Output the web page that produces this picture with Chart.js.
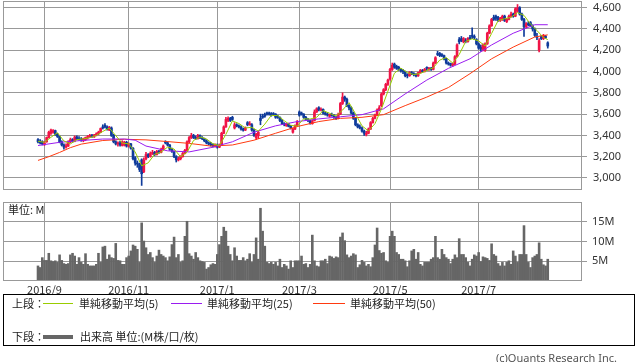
<!DOCTYPE html>
<html>
<head>
<meta charset="utf-8">
<script src="https://cdn.jsdelivr.net/npm/chart.js@4.4.1/dist/chart.umd.min.js"></script>
<style>
body{margin:0;background:#fff;width:638px;height:362px;position:relative;overflow:hidden;font-family:"Noto Sans CJK JP","Noto Sans",sans-serif;color:#222}
canvas{position:absolute;left:0}
#price{top:0}
#vol{top:196px}
.unit{position:absolute;left:8px;top:203px;font-size:11px;line-height:13px;white-space:nowrap}
.legend{position:absolute;left:3px;top:294px;width:632px;height:52px;border:1px solid #000;box-sizing:border-box}
.legend span{position:absolute;font-size:11px;line-height:13px;white-space:nowrap}
.legend i{position:absolute;display:block}
.copy{position:absolute;right:21px;top:351px;font-size:11px;line-height:13px;color:#555;font-family:"Noto Sans",sans-serif}
</style>
</head>
<body>
<canvas id="price" width="638" height="200"></canvas>
<canvas id="vol" width="638" height="98"></canvas>
<div class="unit">単位: M</div>
<div class="legend">
  <span style="left:8px;top:2px">上段：</span>
  <i style="left:39px;top:8px;width:30px;height:1px;background:#99cc00"></i>
  <span style="left:75px;top:2px">単純移動平均(5)</span>
  <i style="left:167px;top:8px;width:31px;height:1px;background:#9a1cf0"></i>
  <span style="left:203px;top:2px">単純移動平均(25)</span>
  <i style="left:309px;top:8px;width:32px;height:1px;background:#ff3a10"></i>
  <span style="left:346px;top:2px">単純移動平均(50)</span>
  <span style="left:8px;top:35px">下段：</span>
  <i style="left:39px;top:40px;width:30px;height:4px;background:#666"></i>
  <span style="left:76px;top:35px">出来高 単位:(M株/口/枚)</span>
</div>
<div class="copy">(c)Quants Research Inc.</div>
<script>
// daily candles, 2016/8/29 .. 2017/8/17 (trading day index = array position)
var opens=[
3360,3345,3340,3320,3340,3380,3420,3430,3445,3410,
3390,3340,3310,3290,3300,3340,3360,3345,3385,3370,
3365,3350,3360,3380,3390,3400,3385,3405,3415,3430,
3480,3495,3480,3450,3470,3400,3340,3320,3330,3305,
3310,3335,3300,3320,3280,3190,3140,3130,3170,3060,
3180,3220,3200,3230,3240,3220,3250,3240,3270,3340,
3330,3310,3270,3250,3200,3170,3180,3200,3230,3260,
3340,3380,3400,3380,3370,3400,3380,3370,3350,3330,
3320,3310,3300,3310,3290,3310,3420,3480,3540,3560,
3570,3470,3500,3490,3480,3460,3450,3520,3500,3500,
3450,3380,3400,3560,3580,3595,3610,3610,3605,3605,
3600,3580,3570,3540,3510,3490,3510,3485,3430,3460,
3490,3620,3610,3600,3570,3550,3540,3510,3540,3620,
3660,3640,3645,3610,3600,3580,3595,3590,3570,3560,
3600,3700,3760,3740,3680,3660,3610,3560,3500,3480,
3470,3440,3410,3420,3460,3520,3560,3590,3640,3680,
3790,3830,3880,3930,4020,4070,4050,4040,4020,4010,
4000,3970,3960,3990,3980,3970,3960,3990,4010,4000,
4040,4020,4030,4020,4080,4170,4170,4160,4150,4120,
4080,4075,4060,4070,4140,4300,4310,4280,4290,4280,
4320,4340,4330,4300,4260,4230,4210,4200,4260,4360,
4430,4510,4520,4510,4480,4490,4520,4470,4490,4520,
4540,4520,4570,4600,4540,4490,4420,4450,4460,4430,
4400,4330,4200,4330,4310,4330,4270];
var highs=[
3370,3360,3350,3345,3385,3440,3460,3455,3450,3420,
3395,3350,3320,3320,3350,3375,3370,3395,3395,3390,
3380,3375,3385,3400,3410,3410,3410,3425,3440,3470,
3500,3510,3490,3485,3480,3410,3350,3340,3345,3350,
3345,3345,3330,3325,3285,3200,3160,3140,3180,3190,
3240,3230,3245,3260,3250,3260,3260,3280,3310,3350,
3340,3315,3280,3255,3210,3195,3210,3240,3270,3350,
3390,3420,3410,3395,3410,3405,3390,3375,3360,3340,
3335,3320,3320,3320,3320,3430,3490,3570,3575,3570,
3580,3520,3510,3500,3490,3470,3480,3530,3530,3510,
3460,3420,3440,3600,3600,3610,3620,3620,3615,3615,
3605,3590,3575,3550,3520,3515,3515,3495,3470,3500,
3540,3630,3620,3605,3580,3560,3545,3545,3640,3660,
3670,3660,3650,3620,3615,3600,3610,3595,3580,3610,
3710,3800,3770,3750,3690,3670,3620,3570,3510,3500,
3480,3450,3440,3470,3530,3570,3600,3650,3680,3800,
3840,3890,3930,4030,4080,4080,4060,4050,4030,4020,
4005,3980,4000,4000,3990,3980,3995,4020,4020,4030,
4045,4040,4040,4090,4140,4190,4180,4170,4155,4125,
4090,4080,4080,4150,4260,4320,4330,4320,4310,4320,
4340,4410,4345,4310,4270,4250,4260,4270,4370,4440,
4500,4530,4530,4520,4510,4530,4530,4500,4530,4560,
4550,4600,4630,4610,4550,4500,4460,4470,4470,4440,
4410,4360,4310,4340,4350,4340,4280];
var lows=[
3330,3320,3310,3305,3335,3375,3410,3420,3400,3380,
3330,3300,3270,3280,3295,3330,3335,3340,3360,3355,
3345,3340,3350,3365,3380,3380,3380,3395,3405,3425,
3460,3470,3450,3445,3390,3330,3310,3300,3300,3300,
3300,3290,3290,3270,3170,3120,3100,3060,2930,3050,
3170,3190,3195,3220,3210,3215,3230,3235,3265,3320,
3300,3260,3240,3190,3150,3160,3170,3195,3225,3255,
3330,3370,3370,3360,3365,3370,3360,3340,3320,3310,
3300,3290,3290,3280,3285,3305,3415,3475,3530,3530,
3540,3460,3480,3470,3450,3440,3445,3490,3495,3440,
3390,3360,3370,3500,3560,3570,3590,3590,3580,3590,
3560,3560,3530,3500,3490,3485,3480,3460,3420,3455,
3485,3580,3590,3560,3540,3530,3505,3505,3535,3615,
3630,3630,3600,3590,3580,3570,3580,3560,3550,3555,
3595,3690,3720,3670,3640,3600,3550,3490,3470,3460,
3430,3400,3395,3415,3455,3515,3555,3585,3630,3670,
3780,3820,3870,3920,4010,4030,4020,4010,3995,3980,
3950,3940,3955,3970,3960,3950,3955,3985,3990,3995,
4010,4010,4010,4015,4075,4150,4140,4140,4110,4070,
4060,4050,4050,4065,4135,4260,4280,4270,4270,4275,
4300,4310,4300,4250,4210,4190,4195,4190,4255,4355,
4425,4480,4480,4470,4470,4480,4470,4460,4485,4510,
4510,4515,4560,4530,4480,4330,4410,4430,4420,4380,
4330,4300,4185,4300,4300,4310,4220];
var closes=[
3340,3330,3320,3330,3380,3430,3450,3445,3410,3390,
3340,3310,3290,3300,3340,3360,3345,3385,3370,3365,
3350,3370,3380,3390,3400,3390,3405,3415,3430,3465,
3470,3480,3455,3475,3400,3340,3320,3330,3310,3340,
3335,3300,3320,3280,3180,3140,3130,3080,3040,3170,
3220,3200,3230,3240,3220,3250,3240,3270,3300,3330,
3310,3270,3250,3200,3170,3180,3200,3230,3260,3340,
3380,3400,3380,3370,3400,3380,3370,3350,3330,3320,
3310,3300,3310,3290,3310,3420,3480,3550,3560,3540,
3550,3500,3490,3480,3460,3450,3470,3500,3510,3450,
3400,3410,3430,3540,3570,3580,3600,3600,3590,3600,
3570,3570,3540,3510,3500,3510,3485,3470,3460,3490,
3530,3590,3600,3570,3550,3540,3510,3530,3620,3650,
3640,3645,3610,3600,3590,3595,3590,3570,3560,3600,
3700,3760,3740,3680,3660,3610,3560,3500,3480,3470,
3440,3420,3420,3460,3520,3560,3590,3640,3660,3790,
3830,3880,3920,4020,4060,4040,4030,4020,4010,4000,
3960,3960,3990,3980,3970,3960,3990,4010,4000,4020,
4030,4030,4020,4080,4130,4160,4150,4150,4120,4080,
4070,4060,4070,4140,4250,4280,4290,4310,4280,4310,
4310,4330,4320,4260,4220,4210,4250,4260,4360,4430,
4490,4490,4500,4480,4500,4520,4480,4490,4520,4540,
4520,4590,4600,4540,4490,4420,4450,4440,4430,4400,
4340,4320,4290,4310,4340,4320,4240];
// 出来高 (M)
var volumes=[
3.9,3.5,6.0,5.3,5.3,7.1,5.2,5.0,5.2,4.8,
6.7,5.3,4.5,4.3,4.5,6.7,7.1,6.4,4.3,6.0,
4.8,4.3,7.0,4.3,3.9,3.9,3.9,4.3,7.1,4.8,
8.7,8.9,5.6,6.7,6.0,5.8,9.6,5.3,5.2,4.3,
4.3,6.0,6.4,7.7,9.2,8.9,8.1,4.8,14.8,10.2,
8.5,6.8,7.3,6.0,4.8,6.4,7.9,6.8,6.4,6.0,
5.2,6.2,9.3,11.2,6.0,6.8,4.8,5.2,11.4,15.2,
7.0,6.4,5.6,7.3,6.0,5.2,5.0,4.8,3.1,3.5,
4.2,4.5,4.3,6.8,9.3,11.4,13.7,12.7,8.9,6.8,
5.2,8.5,6.4,5.3,5.3,6.0,5.2,5.6,7.0,4.8,
6.8,11.0,5.6,18.5,12.7,8.9,4.8,4.5,4.8,4.3,
4.8,3.9,5.6,3.5,4.3,3.9,3.1,5.2,3.5,5.2,
5.2,5.2,6.4,4.3,4.5,3.5,4.3,11.7,5.2,3.9,
3.7,5.2,5.2,5.6,4.5,6.4,6.2,5.8,6.2,6.0,
11.2,12.25,10.3,6.7,6.0,6.4,7.0,6.7,3.5,4.2,
5.3,4.8,3.9,4.3,3.7,6.0,9.2,13.5,7.8,7.1,
7.3,5.2,4.8,11.4,12.7,11.4,7.3,6.8,5.6,5.6,
5.2,3.7,5.2,7.7,8.1,5.6,7.3,4.3,3.9,4.8,
4.8,4.8,5.6,6.0,11.4,6.0,5.6,8.1,6.8,6.0,
5.6,4.5,5.6,6.7,6.0,10.8,6.8,6.8,6.0,4.8,
3.9,5.6,6.7,6.4,7.3,5.0,6.2,6.0,5.8,5.3,
9.5,6.8,6.4,4.5,3.9,4.8,3.9,4.8,5.2,4.3,
7.7,6.4,4.8,6.8,6.8,14.1,6.8,4.8,3.5,6.0,
6.4,6.8,9.75,5.6,4.2,3.9,5.6];

// moving averages (day index, value)
var ma5Days=[0,3,6,9,12,15,18,21,24,27,30,33,36,39,42,45,48,51,54,57,60,63,66,69,72,75,78,81,84,87,90,93,96,99,102,105,108,111,114,117,120,123,126,129,132,135,138,141,144,147,150,153,156,159,162,165,168,171,174,177,180,183,186,189,192,195,198,201,204,207,210,213,216,219,222,225,228,231,234,236];
var ma5=[3345,3335,3382,3425,3348,3320,3360,3368,3378,3400,3437,3469,3398,3328,3321,3244,3114,3142,3222,3244,3290,3272,3200,3242,3352,3386,3366,3322,3304,3410,3536,3512,3470,3476,3440,3506,3588,3586,3538,3495,3487,3556,3554,3570,3633,3608,3581,3638,3708,3602,3490,3442,3510,3648,3816,3984,4032,3990,3972,3982,4010,4036,4108,4132,4080,4160,4282,4308,4288,4240,4358,4478,4496,4510,4554,4528,4446,4386,4320,4300];
var ma25Days=[0,10,20,30,40,45,50,60,70,80,90,100,110,120,130,140,150,160,170,180,190,200,210,220,230,236];
var ma25=[3305,3335,3352,3366,3366,3355,3300,3255,3245,3285,3340,3430,3490,3530,3555,3575,3595,3650,3790,3920,4030,4120,4250,4360,4440,4440];
var ma50Days=[0,5,10,15,20,30,40,50,60,70,80,90,100,110,120,130,140,150,160,170,180,190,200,210,220,230,236];
var ma50=[3165,3200,3240,3285,3318,3352,3364,3358,3342,3325,3300,3310,3355,3420,3483,3530,3560,3570,3595,3680,3760,3850,3980,4120,4230,4325,4345];

var monthDays=[3,42,83,121,163,204];
var monthLabels=['2016/9','2016/11','2017/1','2017/3','2017/5','2017/7'];
var priceTicks=[3000,3200,3400,3600,3800,4000,4200,4400,4600];
var volTicks=[5,10,15];

var UP='#f01446', DOWN='#0f3b9b', GRID='#999';
var xMin=-16.2, xMax=251.85;

var frame={id:'frame',afterDatasetsDraw:function(c){
    var a=c.chartArea, x=c.ctx;
    x.save(); x.strokeStyle=GRID; x.lineWidth=1;
    x.strokeRect(Math.round(a.left)+0.5,Math.round(a.top)+0.5,Math.round(a.right-a.left)-1,Math.round(a.bottom-a.top)-1);
    x.restore();
}};

// keep the plot box where it is: no extra room for half tick labels
function noPad(s){ s.paddingTop=0; s.paddingBottom=0; s.paddingLeft=0; s.paddingRight=0; }

function pts(days,vals){ return days.map(function(d,k){ return {x:d,y:vals[k]}; }); }
function maLine(days,vals,color){
    return {type:'line',data:pts(days,vals),borderColor:color,borderWidth:1,pointRadius:0,fill:false,tension:0,order:0};
}

var colors=closes.map(function(c,i){ return c>=opens[i]?UP:DOWN; });

var tickFont={family:'Noto Sans',size:11};

new Chart(document.getElementById('price'),{
    type:'bar',
    data:{datasets:[
        maLine(ma5Days,ma5,'#99cc00'),
        maLine(ma25Days,ma25,'#9a1cf0'),
        maLine(ma50Days,ma50,'#ff3a10'),
        {data:closes.map(function(c,i){return {x:i,y:[opens[i],c]};}),backgroundColor:colors,barThickness:2,grouped:false,order:1},
        {data:closes.map(function(c,i){return {x:i,y:[lows[i],highs[i]]};}),backgroundColor:colors,barThickness:1,grouped:false,order:2}
    ]},
    options:{
        responsive:false,animation:false,devicePixelRatio:1,
        layout:{padding:{left:3,top:1,bottom:10,right:0}},
        plugins:{legend:{display:false},tooltip:{enabled:false}},
        scales:{
            x:{type:'linear',min:xMin,max:xMax,offset:false,
                afterBuildTicks:function(s){ s.ticks=monthDays.map(function(v){return {value:v};}); },
                ticks:{display:false},grid:{color:GRID,drawTicks:false,offset:false},border:{display:false},
                afterFit:function(s){ s.height=0; noPad(s); }},
            y:{position:'right',min:2887,max:4663,
                afterBuildTicks:function(s){ s.ticks=priceTicks.map(function(v){return {value:v};}); },
                ticks:{padding:6,color:'#333',font:tickFont,callback:function(v){ return Number(v).toLocaleString('en-US'); }},
                grid:{color:GRID,tickLength:5},border:{display:false},
                afterFit:function(s){ s.width=56; noPad(s); }}
        }
    },
    plugins:[frame]
});

new Chart(document.getElementById('vol'),{
    type:'bar',
    data:{datasets:[
        {data:volumes.map(function(v,i){return {x:i,y:v};}),backgroundColor:'#666',borderWidth:0,barPercentage:1.2,categoryPercentage:1}
    ]},
    options:{
        responsive:false,animation:false,devicePixelRatio:1,
        layout:{padding:{left:3,top:6,bottom:0,right:0}},
        plugins:{legend:{display:false},tooltip:{enabled:false}},
        scales:{
            x:{type:'linear',min:xMin,max:xMax,offset:false,
                afterBuildTicks:function(s){ s.ticks=monthDays.map(function(v){return {value:v};}); },
                ticks:{padding:2,color:'#333',font:{family:'Noto Sans CJK JP',size:11},autoSkip:false,maxRotation:0,
                    callback:function(v){ return monthLabels[monthDays.indexOf(v)]; }},
                grid:{color:GRID,drawTicks:false,offset:false},border:{display:false},
                afterFit:function(s){ s.height=13; noPad(s); }},
            y:{position:'right',min:0,max:20,
                afterBuildTicks:function(s){ s.ticks=volTicks.map(function(v){return {value:v};}); },
                ticks:{padding:5,color:'#333',font:tickFont,callback:function(v){ return v+'M'; }},
                grid:{color:GRID,tickLength:5},border:{display:false},
                afterFit:function(s){ s.width=56; noPad(s); }}
        }
    },
    plugins:[frame]
});
</script>
</body>
</html>
